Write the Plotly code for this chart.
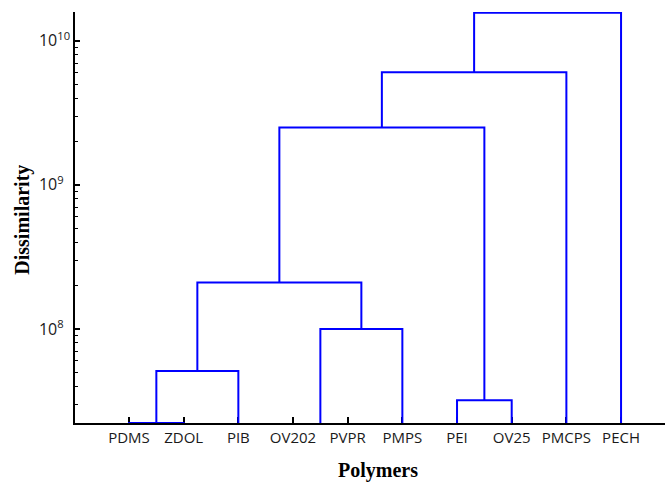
import plotly.graph_objects as go

# ---- data ----
leaves = ["PDMS", "ZDOL", "PIB", "OV202", "PVPR", "PMPS", "PEI", "OV25", "PMCPS", "PECH"]
# linkage: (left cluster id, right cluster id, dissimilarity); new clusters get ids 10, 11, ...
merge_left = [0, 10, 3, 12, 11, 6, 14, 16, 17]
merge_right = [1, 2, 4, 5, 13, 7, 15, 8, 9]
merge_height = [2.22e7, 5.1e7, 1.5e7, 1.0e8, 2.1e8, 3.2e7, 2.5e9, 6.05e9, 1.56e10]
leaf_height = 1.0e7  # below the visible axis floor
y_tickvals = [1e8, 1e9, 1e10]
y_ticktext = ["10<sup>8\u2007</sup>", "10<sup>9\u2007</sup>", "10<sup>10</sup>"]

# ---- build dendrogram segments ----
pos = {i: i + 1 for i in range(len(leaves))}
hgt = {i: leaf_height for i in range(len(leaves))}
xs, ys = [], []
for k, (a, b, h) in enumerate(zip(merge_left, merge_right, merge_height)):
    cid = len(leaves) + k
    xa, xb = pos[a], pos[b]
    xs += [xa, xa, xb, xb, None]
    ys += [hgt[a], h, h, hgt[b], None]
    pos[cid] = (xa + xb) / 2
    hgt[cid] = h

fig = go.Figure()
fig.add_trace(go.Scatter(x=xs, y=ys, mode="lines",
                         line=dict(color="#0000FF", width=2),
                         hoverinfo="skip", showlegend=False))

fig.update_layout(
    width=665, height=484,
    margin=dict(l=75, r=0, t=12, b=61),
    paper_bgcolor="white", plot_bgcolor="white",
    font=dict(family="Open Sans", color="#1a1a1a"),
    showlegend=False,
    xaxis=dict(
        range=[0.012, 10.804],
        tickmode="array", tickvals=list(range(1, len(leaves) + 1)), ticktext=leaves,
        ticks="inside", ticklen=6, tickwidth=1.5, tickcolor="black",
        showline=True, linecolor="black", linewidth=1.5,
        showgrid=False, zeroline=False, layer="below traces",
        tickfont=dict(family="Open Sans", size=15, color="#1a1a1a"),
    ),
    yaxis=dict(
        type="log", range=[7.347, 10.199],
        tickmode="array", tickvals=y_tickvals, ticktext=y_ticktext,
        ticks="inside", ticklen=5, tickwidth=1.5, tickcolor="black",
        showline=True, linecolor="black", linewidth=1.5,
        showgrid=False, zeroline=False, layer="below traces",
        tickfont=dict(family="Open Sans", size=16, color="#1a1a1a"),
        minor=dict(ticks="inside", ticklen=3, tickwidth=1, tickcolor="black",
                   dtick="D1", showgrid=False),
    ),
    annotations=[
        dict(text="<b>Polymers</b>", xref="paper", yref="paper",
             x=0.5136, y=-0.1144, xanchor="center", yanchor="middle",
             showarrow=False,
             font=dict(family="Liberation Serif", size=20, color="black")),
        dict(text="<b>Dissimilarity</b>", xref="paper", yref="paper",
             x=-0.0886, y=0.494, xanchor="center", yanchor="middle",
             textangle=-90, showarrow=False,
             font=dict(family="Liberation Serif", size=20, color="black")),
    ],
)

fig.write_html("out.html", config={"displayModeBar": False},
               post_script="document.body.style.margin='0';")
